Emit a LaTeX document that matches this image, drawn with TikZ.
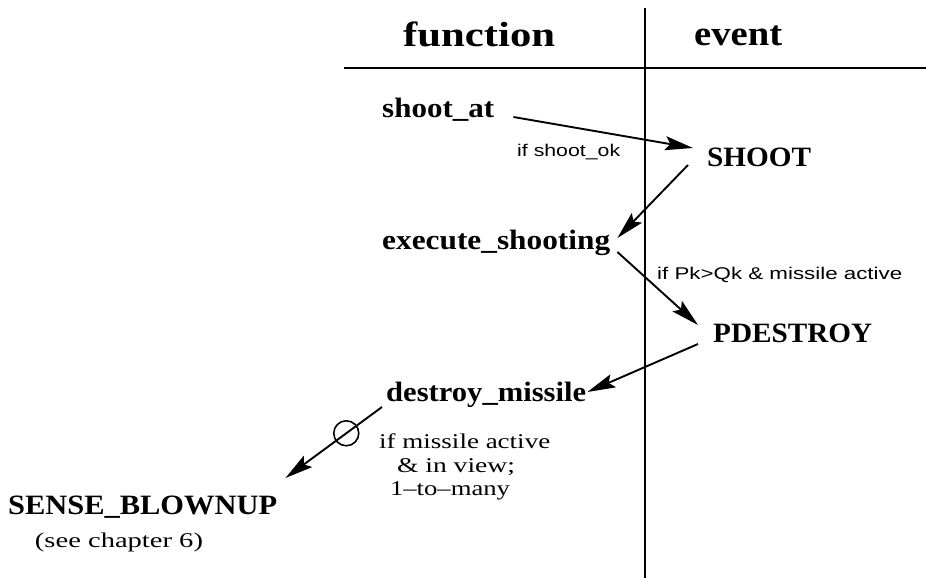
\documentclass[tikz,border=0pt]{standalone}
\usepackage{fontspec}
\setmainfont{Liberation Serif}
\newfontfamily\sansf{Liberation Sans}
\usetikzlibrary{arrows.meta,calc}
\newcommand\wfit[2]{\resizebox{#1}{\height}{#2}}
\begin{document}
\begin{tikzpicture}[x=1pt,y=-1pt,
  lbl/.style={inner sep=0pt, anchor=base west, font=\fontsize{28}{30}\selectfont\bfseries},
  hdr/.style={inner sep=0pt, anchor=base west, font=\fontsize{35}{40}\selectfont\bfseries},
  cond/.style={inner sep=0pt, anchor=base west, font=\fontsize{17}{20}\selectfont\sansf},
  note/.style={inner sep=0pt, anchor=base, font=\fontsize{21}{23.5}\selectfont},
  arr/.style={line width=1.9pt, -{Stealth[length=28pt,width=14pt,inset=5pt]}},
  rule/.style={line width=1.6pt},
  ring/.style={circle, draw, line width=1.6pt, minimum size=25pt, inner sep=0pt}]
\useasboundingbox (0,0) rectangle (926,578);
\fill[white] (0,0) rectangle (926,578);
% table rules
\draw[rule] (645,8) -- (645,578);
\draw[rule] (344,68) -- (926,68);
% headers
\node[hdr] (hfun) at (403,47) {\wfit{152pt}{function}};
\node[hdr] (hevt) at (694,46) {\wfit{88pt}{event}};
% labels
\node[lbl] (shootat) at (382,117) {\wfit{112pt}{shoot\_at}};
\node[cond] (c1) at (517,156) {\wfit{103pt}{if shoot\_ok}};
\node[lbl] (shoot) at (707,166) {\wfit{104pt}{SHOOT}};
\node[lbl] (exec) at (382,249) {\wfit{228pt}{execute\_shooting}};
\node[cond] (c2) at (657,279) {\wfit{245pt}{if Pk>Qk \& missile active}};
\node[lbl] (pdes) at (713,342) {\wfit{159pt}{PDESTROY}};
\node[lbl] (dmis) at (386,401) {\wfit{200pt}{destroy\_missile}};
\node[note, anchor=base west] (c3a) at (379,448) {\wfit{171pt}{if missile active}};
\node[note] (c3b) at (456,472) {\wfit{118pt}{\& in view;}};
\node[note] (c3c) at (450,495) {\wfit{120pt}{1--to--many}};
\node[lbl] (sense) at (8,514) {\wfit{269pt}{SENSE\_BLOWNUP}};
\node[note] (see) at (119,547) {\wfit{168pt}{(see chapter 6)}};
% connectors
\draw[arr] ($(shootat.base east)+(19,0)$) -- ($(shoot.base west)+(-14,-18)$);
\draw[arr] ($(shoot.base west)+(-19,-1)$) -- ($(exec.base east)+(7,-11)$);
\draw[arr] ($(exec.base east)+(7,3)$) -- ($(pdes.base west)+(-15,-17)$);
\draw[arr] ($(pdes.base west)+(-15,2)$) -- ($(dmis.base east)+(1,-9)$);
\draw[arr] ($(dmis.base west)+(-4,6)$) -- ($(sense.base east)+(8,-36)$)
  node[ring, pos=0.37] (ring) {};
\end{tikzpicture}
\end{document}
